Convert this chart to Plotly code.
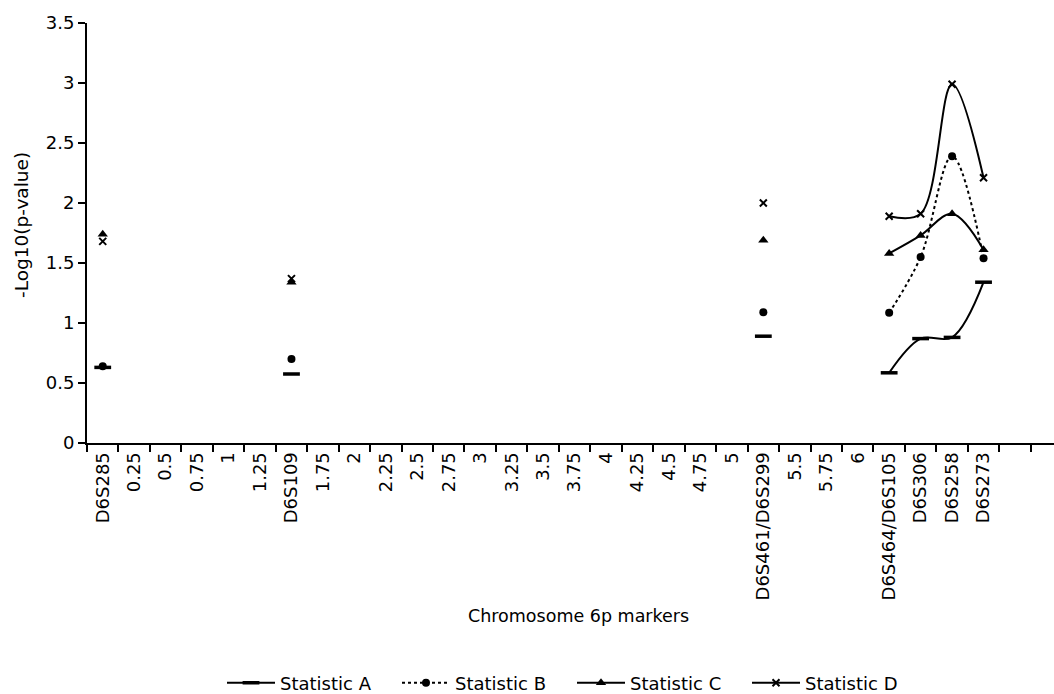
import plotly.graph_objects as go

categories = ["D6S285", "0.25", "0.5", "0.75", "1", "1.25", "D6S109", "1.75", "2", "2.25",
              "2.5", "2.75", "3", "3.25", "3.5", "3.75", "4", "4.25", "4.5", "4.75", "5",
              "D6S461/D6S299", "5.5", "5.75", "6", "D6S464/D6S105", "D6S306", "D6S258",
              "D6S273", " "]

markers_idx = ["D6S285", "D6S109", "D6S461/D6S299", "D6S464/D6S105", "D6S306", "D6S258", "D6S273"]

stat_a = [0.63, 0.575, 0.89, 0.585, 0.87, 0.88, 1.34]
stat_b = [0.64, 0.70, 1.09, 1.085, 1.55, 2.39, 1.54]
stat_c = [1.74, 1.34, 1.69, 1.58, 1.73, 1.91, 1.61]
stat_d = [1.68, 1.37, 2.00, 1.89, 1.91, 2.99, 2.21]

series_names = ["Statistic A", "Statistic B", "Statistic C", "Statistic D"]

y_ticks = [0, 0.5, 1, 1.5, 2, 2.5, 3, 3.5]
y_ticktext = ["0", "0.5", "1", "1.5", "2", "2.5", "3", "3.5"]


def full(vals):
    m = dict(zip(markers_idx, vals))
    return [m.get(c, None) for c in categories]


styles = [
    dict(symbol="line-ew", size=12, line=dict(width=3.5, color="black"), dash="solid"),
    dict(symbol="circle", size=8, line=dict(width=0, color="black"), dash="dot"),
    dict(symbol="triangle-up", size=9, line=dict(width=0, color="black"), dash="solid"),
    dict(symbol="x-thin", size=7, line=dict(width=2, color="black"), dash="solid"),
]

fig = go.Figure()
for name, vals, st in zip(series_names, [stat_a, stat_b, stat_c, stat_d], styles):
    fig.add_trace(go.Scatter(
        x=categories, y=full(vals), name=name, mode="lines+markers",
        connectgaps=False,
        line=dict(color="black", width=2, dash=st["dash"], shape="spline", smoothing=1),
        marker=dict(symbol=st["symbol"], size=st["size"], color="black", line=st["line"]),
    ))

W, H = 1054, 694
l, r, t, b = 87, 0, 23, 251
pw, ph = W - l - r, H - t - b

font = "DejaVu Sans, Liberation Sans, Arial, sans-serif"
fig.update_layout(
    width=W, height=H,
    margin=dict(l=l, r=r, t=t, b=b, autoexpand=False),
    paper_bgcolor="white", plot_bgcolor="white",
    font=dict(family=font, size=18, color="black"),
    showlegend=True,
    legend=dict(orientation="h", x=(222 - l) / pw, xanchor="left",
                y=(H - b - 683) / ph, yanchor="middle",
                font=dict(size=18), itemwidth=48, traceorder="normal",
                entrywidth=112, entrywidthmode="pixels", bgcolor="rgba(0,0,0,0)"),
    xaxis=dict(type="category", categoryorder="array", categoryarray=categories,
               range=[-0.5, 30.24], tickson="boundaries", ticks="outside", ticklen=7,
               tickwidth=1.5, tickcolor="black", showline=True, linecolor="black",
               linewidth=2, showgrid=False, zeroline=False, tickangle=-90,
               tickfont=dict(size=18), fixedrange=True, automargin=False),
    yaxis=dict(range=[0, 3.5], tickvals=y_ticks, ticktext=y_ticktext,
               ticks="outside", ticklen=7, tickwidth=1.5, tickcolor="black",
               showline=True, linecolor="black", linewidth=2, showgrid=False,
               zeroline=False, tickfont=dict(size=18), fixedrange=True, automargin=False),
    annotations=[
        dict(text="Chromosome 6p markers", x=(578 - l) / pw, y=(H - b - 616) / ph,
             xref="paper", yref="paper", xanchor="center", yanchor="middle",
             showarrow=False, font=dict(size=17.5)),
        dict(text="-Log10(p-value)", x=(22 - l) / pw, y=(H - b - 225) / ph,
             xref="paper", yref="paper", xanchor="center", yanchor="middle",
             showarrow=False, textangle=-90, font=dict(size=18.5)),
    ],
)

fig.write_html("out.html")
